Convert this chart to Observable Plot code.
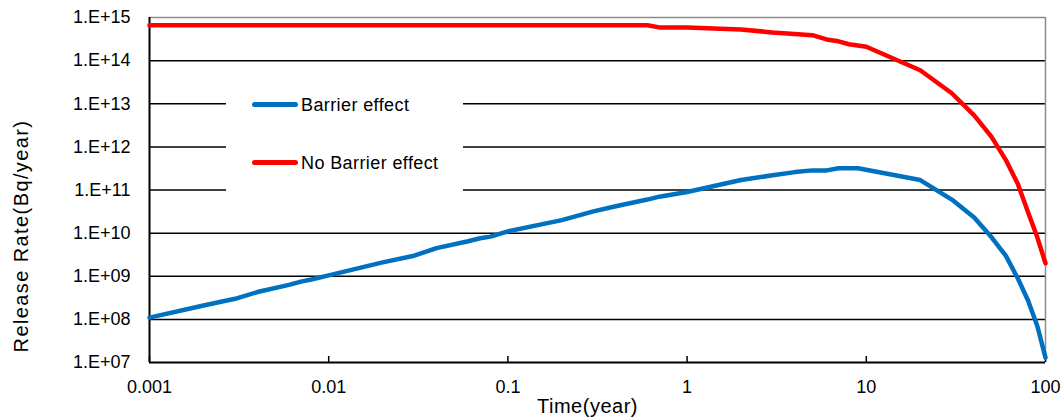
<!DOCTYPE html>
<html>
<head>
<meta charset="utf-8">
<script src="https://cdn.jsdelivr.net/npm/d3@7"></script>
<script src="https://cdn.jsdelivr.net/npm/@observablehq/plot@0.6"></script>
<style>
  html, body { margin: 0; padding: 0; background: white; }
  #wrap { position: relative; width: 1063px; height: 418px; font-family: "Liberation Sans", Arial, sans-serif; }
  #legend { position: absolute; left: 226px; top: 72px; width: 237px; height: 122px; background: white; }
  .item { position: absolute; left: 0; height: 24px; }
  .swatch { position: absolute; left: 26px; top: 10px; width: 46px; height: 5px; border-radius: 3px; }
  .lab { position: absolute; left: 75px; top: 1px; line-height: 24px; font-size: 18px; letter-spacing: 0.4px; color: #000; white-space: nowrap; }
</style>
</head>
<body>
<div id="wrap"></div>
<script>
// Tick values and labels
const xTicks = [0.001, 0.01, 0.1, 1, 10, 100];
const xTickLabels = ["0.001", "0.01", "0.1", "1", "10", "100"];
const yTicks = [1e7, 1e8, 1e9, 1e10, 1e11, 1e12, 1e13, 1e14, 1e15];
const yTickLabels = ["1.E+07", "1.E+08", "1.E+09", "1.E+10", "1.E+11", "1.E+12", "1.E+13", "1.E+14", "1.E+15"];

// Series: Barrier effect
const barrierTimes = [0.001, 0.002, 0.003, 0.004, 0.006, 0.007, 0.008, 0.01, 0.02, 0.03, 0.04, 0.06, 0.07, 0.08, 0.1,
  0.2, 0.3, 0.4, 0.6, 0.7, 1, 2, 3, 4, 5, 6, 7, 9, 20, 30, 40, 50, 60, 70, 80, 90, 100];
const barrierValues = [1.1e8, 2.1e8, 3.0e8, 4.3e8, 6.3e8, 7.5e8, 8.4e8, 1.05e9, 2.1e9, 3.0e9, 4.5e9, 6.5e9, 7.6e9, 8.3e9, 1.1e10,
  2.0e10, 3.2e10, 4.2e10, 6.0e10, 7.0e10, 9.0e10, 1.7e11, 2.2e11, 2.6e11, 2.85e11, 2.85e11, 3.2e11, 3.2e11, 1.7e11, 6.0e10, 2.3e10, 8.0e9, 3.0e9, 9.0e8, 2.7e8, 7.0e7, 1.3e7];

// Series: No Barrier effect
const noBarrierTimes = [0.001, 0.6, 0.7, 1, 2, 3, 5, 6, 7, 8, 10, 20, 30, 40, 50, 60, 70, 80, 90, 100];
const noBarrierValues = [6.6e14, 6.6e14, 5.9e14, 5.9e14, 5.3e14, 4.5e14, 3.9e14, 3.1e14, 2.8e14, 2.4e14, 2.1e14,
  6.0e13, 1.75e13, 5.4e12, 1.7e12, 5.0e11, 1.4e11, 3.0e10, 8.0e9, 2.0e9];

const seriesNames = ["Barrier effect", "No Barrier effect"];
const seriesColors = ["#0070C0", "#FF0000"];
const xTitle = "Time(year)";
const yTitle = "Release Rate(Bq/year)";

const barrier = barrierTimes.map((t, i) => ({t, v: barrierValues[i]}));
const noBarrier = noBarrierTimes.map((t, i) => ({t, v: noBarrierValues[i]}));
const gridTicks = yTicks.slice(1, -1);

const chart = Plot.plot({
  width: 1063,
  height: 418,
  marginTop: 17,
  marginBottom: 56,
  marginLeft: 149,
  marginRight: 18,
  x: {type: "log", domain: [0.001, 100]},
  y: {type: "log", domain: [1e7, 1e15]},
  style: {fontFamily: '"Liberation Sans", Arial, sans-serif', fontSize: "18px", color: "black", background: "white", overflow: "visible"},
  marks: [
    Plot.ruleY(gridTicks, {y: d => d, stroke: "black", strokeWidth: 1.5}),
    Plot.ruleY([yTicks[yTicks.length - 1]], {y: d => d, stroke: "#8c8c8c", strokeWidth: 1.5}),
    Plot.ruleX([xTicks[xTicks.length - 1]], {x: d => d, stroke: "#8c8c8c", strokeWidth: 1.5}),
    Plot.ruleX([xTicks[0]], {x: d => d, stroke: "black", strokeWidth: 2}),
    Plot.ruleY([yTicks[0]], {y: d => d, stroke: "black", strokeWidth: 2}),
    Plot.tickX(xTicks, {x: d => d, insetTop: 339, stroke: "black", strokeWidth: 1.5}),
    Plot.axisX({ticks: xTicks, tickFormat: d => xTickLabels[xTicks.indexOf(d)], tickSize: 0, tickPadding: 18, label: null, fontSize: 18}),
    Plot.axisY({ticks: yTicks, tickFormat: d => yTickLabels[yTicks.indexOf(d)], tickSize: 0, tickPadding: 19, label: null, fontSize: 18}),
    Plot.line(barrier, {x: "t", y: "v", stroke: seriesColors[0], strokeWidth: 4.5, strokeLinejoin: "round"}),
    Plot.line(noBarrier, {x: "t", y: "v", stroke: seriesColors[1], strokeWidth: 4.5, strokeLinejoin: "round"}),
    Plot.text([xTitle], {frameAnchor: "bottom", textAnchor: "middle", lineAnchor: "middle", dy: 44, dx: -10, fontSize: 20}),
    Plot.text([yTitle], {frameAnchor: "left", textAnchor: "middle", lineAnchor: "middle", rotate: -90, dx: -128, dy: 46, fontSize: 20})
  ]
});

d3.select(chart).selectAll("text").filter(function () {
  const t = this.textContent;
  return t === xTitle || t === yTitle;
}).style("letter-spacing", function () {
  return this.textContent === yTitle ? "1.4px" : "0.5px";
});

const wrap = document.getElementById("wrap");
wrap.appendChild(chart);

const legend = document.createElement("div");
legend.id = "legend";
seriesNames.forEach((name, i) => {
  const item = document.createElement("div");
  item.className = "item";
  item.style.top = (i === 0 ? 20 : 78) + "px";
  item.style.width = "237px";
  const sw = document.createElement("div");
  sw.className = "swatch";
  sw.style.background = seriesColors[i];
  const lab = document.createElement("div");
  lab.className = "lab";
  lab.textContent = name;
  item.appendChild(sw);
  item.appendChild(lab);
  legend.appendChild(item);
});
wrap.appendChild(legend);
</script>
</body>
</html>
